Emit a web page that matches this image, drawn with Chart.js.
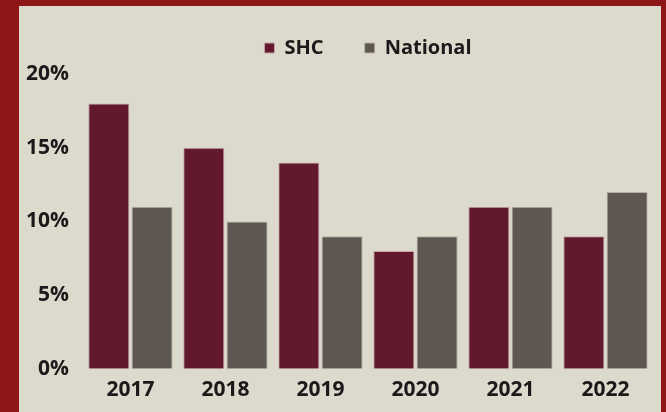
<!DOCTYPE html>
<html>
<head>
<meta charset="utf-8">
<script src="https://cdn.jsdelivr.net/npm/chart.js@4.4.0/dist/chart.umd.min.js"></script>
<style>
    html, body { margin: 0; padding: 0; }
    body { width: 666px; height: 412px; background: #8e1616; position: relative; overflow: hidden; }
    #panel { position: absolute; left: 19px; top: 6px; width: 642px; height: 406px; background: #dcd9cd; }
</style>
</head>
<body>
<div id="panel"><canvas id="rateChart" width="642" height="406"></canvas></div>
<script>
var years = ['2017', '2018', '2019', '2020', '2021', '2022'];
var shcRates = [18, 15, 14, 8, 11, 9];
var nationalRates = [11, 10, 9, 9, 11, 12];
var yTicks = [0, 5, 10, 15, 20];

var fontFamily = "'Open Sans', sans-serif";
var labelFont = { family: fontFamily, size: 21, weight: '700' };
var gap = '\u00a0\u00a0\u00a0\u00a0\u00a0\u00a0';

var ctx = document.getElementById('rateChart').getContext('2d');
var rateChart = new Chart(ctx, {
    type: 'bar',
    data: {
        labels: years,
        datasets: [
            {
                label: 'SHC',
                data: shcRates,
                backgroundColor: '#62192e',
                borderColor: '#c4a4a6',
                borderWidth: 1
            },
            {
                label: 'National',
                data: nationalRates,
                backgroundColor: '#5e5650',
                borderColor: '#b7b0a8',
                borderWidth: 1
            }
        ]
    },
    options: {
        responsive: false,
        animation: false,
        categoryPercentage: 0.91,
        barPercentage: 0.95,
        layout: {
            padding: { left: -7, right: 8, top: 22, bottom: 0 }
        },
        plugins: {
            legend: {
                position: 'top',
                fullSize: false,
                weight: 3000,
                labels: {
                    boxWidth: 10,
                    boxHeight: 10,
                    padding: 10,
                    color: '#1b1919',
                    font: { family: fontFamily, size: 20, weight: '700' },
                    generateLabels: function(chart) {
                        var items = Chart.defaults.plugins.legend.labels.generateLabels(chart);
                        items.forEach(function(item, i) {
                            if (i < items.length - 1) item.text = item.text + gap;
                        });
                        return items;
                    }
                }
            },
            // empty spacer between legend and plot
            title: {
                display: true,
                text: '',
                fullSize: false,
                weight: 2000,
                padding: 0,
                font: { size: 6, lineHeight: 1 }
            },
            tooltip: { enabled: false }
        },
        scales: {
            y: {
                min: 0,
                max: 20,
                afterBuildTicks: function(axis) {
                    axis.ticks = yTicks.map(function(v) { return { value: v }; });
                },
                grid: { display: false, drawTicks: false },
                border: { display: false },
                ticks: {
                    padding: 14,
                    color: '#1b1919',
                    font: labelFont,
                    callback: function(v) { return v + '%'; }
                }
            },
            x: {
                grid: { display: false, drawTicks: false },
                border: { display: false },
                ticks: {
                    padding: 9,
                    maxRotation: 0,
                    color: '#1b1919',
                    font: labelFont
                }
            }
        }
    }
});
</script>
</body>
</html>
